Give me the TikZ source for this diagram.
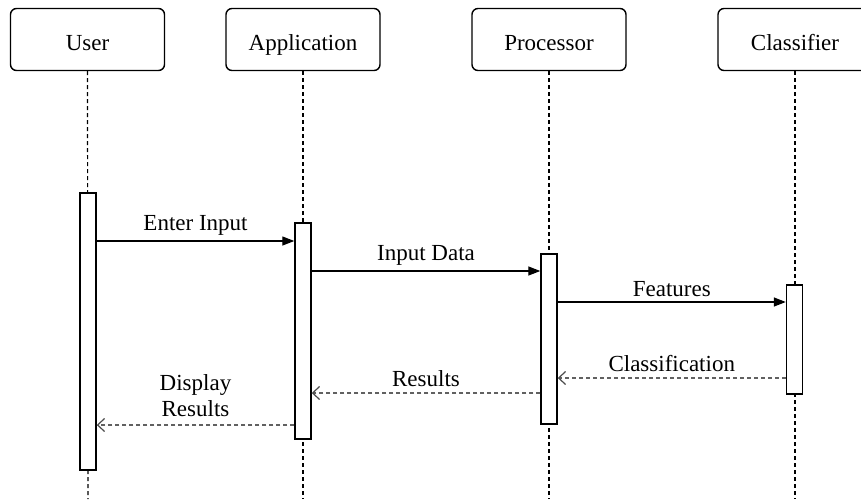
\documentclass[tikz,border=0pt]{standalone}
\usepackage{fontspec}
\setmainfont{Liberation Serif}
\usetikzlibrary{arrows.meta}
\begin{document}
\begin{tikzpicture}[x=1pt,y=-1pt,
  font=\fontsize{23}{26.5}\selectfont,
  actor/.style={draw, line width=1.4pt, rounded corners=6pt, minimum width=154pt, minimum height=62pt, inner sep=0pt, fill=white, text height=21pt, text depth=0pt},
  actbar/.style={draw, line width=1.4pt, fill=white, minimum width=16pt, inner sep=0pt},
  lifeline/.style={line width=1.2pt, dash pattern=on 4pt off 3pt},
  callmsg/.style={line width=1.3pt, -{Triangle[length=12pt,width=9pt]}},
  retmsg/.style={line width=1.6pt, draw=black!62, dash pattern=on 4pt off 3pt, -{Straight Barb[length=7pt,width=13pt,line width=1.2pt,black!70]}},
  lbl/.style={above, inner sep=5pt}
]
\useasboundingbox (0,0) rectangle (861,499);
\node[actor] (user) at (87.5,39.5) {User};
\node[actor] (app) at (303,39.5) {Application};
\node[actor] (proc) at (549,39.5) {Processor};
\node[actor] (cls) at (795,39.5) {Classifier};
\coordinate (uend) at (88,499);
\coordinate (aend) at (303,499);
\coordinate (pend) at (549,499);
\coordinate (cend) at (795,499);
\draw[lifeline] (user.south) -- (uend);
\draw[lifeline] (app.south) -- (aend);
\draw[lifeline] (proc.south) -- (pend);
\draw[lifeline] (cls.south) -- (cend);
\node[actbar, minimum height=277pt] (ua) at (88,331.5) {};
\node[actbar, minimum height=216pt] (aa) at (303,331) {};
\node[actbar, minimum height=170pt] (pa) at (549,339) {};
\node[actbar, minimum height=109pt] (ca) at (794.5,339.5) {};
\draw[callmsg] (ua.east |- 0,241) -- node[lbl] {Enter Input} (aa.west |- 0,241);
\draw[callmsg] (aa.east |- 0,271) -- node[lbl] {Input Data} (pa.west |- 0,271);
\draw[callmsg] (pa.east |- 0,302) -- node[lbl] {Features} (ca.west |- 0,302);
\draw[retmsg] (ca.west |- 0,378) -- node[lbl, text=black] {Classification} (pa.east |- 0,378);
\draw[retmsg] (pa.west |- 0,393) -- node[lbl, text=black] {Results} (aa.east |- 0,393);
\draw[retmsg] (aa.west |- 0,425) -- node[lbl, text=black, align=center, inner sep=7pt] {Display\\Results} (ua.east |- 0,425);
\end{tikzpicture}
\end{document}
